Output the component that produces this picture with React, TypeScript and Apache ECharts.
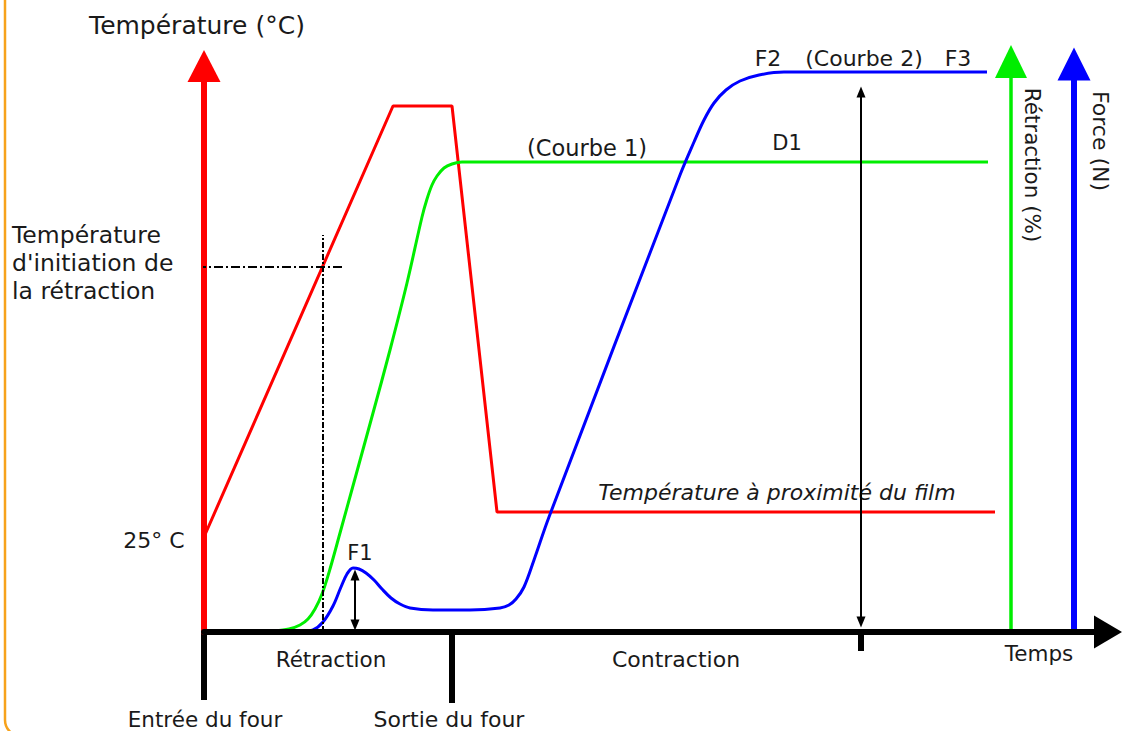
import React, { useEffect, useRef } from "react";
import * as echarts from "echarts";

// Schematic time units (x) and signal levels (y), shared scale for all three quantities
const timeTemp = [0, 189, 248, 293, 791];
const temperature = [95, 526, 526, 120, 120];

const timeRetraction = [50, 70, 85, 96, 104, 111, 118, 126, 136, 169, 186, 203, 218, 223, 228, 233, 240, 248, 258, 784];
const retraction = [0, 1, 3, 7, 13, 23, 38, 63, 99, 219, 282, 349, 415, 433, 447, 456, 464, 468, 470, 470];

const timeForce = [96, 109, 119, 129, 137, 143, 149, 155, 162, 170, 178, 187, 196, 206, 229, 266, 296, 305, 312, 320, 330, 345, 476, 490, 500, 510, 522, 536, 555, 580, 783];
const force = [0, 2, 10, 26, 45, 58, 64, 63, 59, 52, 43, 34, 28, 24, 22, 22, 24, 27, 33, 45, 72, 115, 457, 490, 512, 529, 542, 551, 557, 560, 560];

// initiation temperature guide
const initTemp = 365;
const initTime = 119;
const guideTimeRange = [-7, 139];
const guideVertRange = [0, 397];

// arrows: F1 and F2/F3 amplitude
const f1Time = 151;
const f1Range = [7, 57];
const f2Time = 657;
const f2Range = [10, 540];

// phase boundaries on the time axis with tick lengths
const phaseTimes = [0, 248, 657];
const phaseTickLen = [68, 71, 19];

const XMAX = 904;
const YMAX = 566;

const FONT = "DejaVu Sans";
const TXT = "#1a1a1a";

export default function App() {
  const ref = useRef<HTMLDivElement>(null);

  useEffect(() => {
    if (!ref.current) return;
    const chart = echarts.init(ref.current, null, { renderer: "svg" });

    const hidden = {
      axisTick: { show: false },
      axisLabel: { show: false },
      splitLine: { show: false },
    };

    const zip = (xs: number[], ys: number[]) => xs.map((x, i) => [x, ys[i]]);

    const option: any = {
      animation: false,
      backgroundColor: "#ffffff",
      grid: { left: 204, right: 20, top: 66, bottom: 99 },
      xAxis: {
        type: "value",
        min: 0,
        max: XMAX,
        z: 5,
        axisLine: {
          show: true,
          onZero: false,
          lineStyle: { color: "#000000", width: 6 },
          symbol: ["none", "triangle"],
          symbolSize: [33, 28],
        },
        ...hidden,
      },
      yAxis: [
        {
          type: "value",
          min: 0,
          max: YMAX,
          position: "left",
          axisLine: {
            show: true,
            onZero: false,
            lineStyle: { color: "#ff0000", width: 6 },
            symbol: ["none", "triangle"],
            symbolSize: [33, 32],
          },
          ...hidden,
        },
        {
          type: "value",
          min: 0,
          max: YMAX,
          position: "right",
          offset: -97,
          axisLine: {
            show: true,
            onZero: false,
            lineStyle: { color: "#00ee00", width: 3.5 },
            symbol: ["none", "triangle"],
            symbolSize: [32, 33],
            symbolOffset: [0, 4.5],
          },
          ...hidden,
        },
        {
          type: "value",
          min: 0,
          max: YMAX,
          position: "right",
          offset: -34,
          axisLine: {
            show: true,
            onZero: false,
            lineStyle: { color: "#0000ff", width: 6 },
            symbol: ["none", "triangle"],
            symbolSize: [33, 33],
            symbolOffset: [0, 2],
          },
          ...hidden,
        },
      ],
      series: [
        {
          name: "Température",
          type: "line",
          yAxisIndex: 0,
          data: zip(timeTemp, temperature),
          showSymbol: false,
          lineStyle: { color: "#ff0000", width: 3 },
          silent: true,
        },
        {
          name: "Rétraction",
          type: "line",
          yAxisIndex: 1,
          data: zip(timeRetraction, retraction),
          showSymbol: false,
          smooth: 0.35,
          lineStyle: { color: "#00ee00", width: 3 },
          silent: true,
        },
        {
          name: "Force",
          type: "line",
          yAxisIndex: 2,
          data: zip(timeForce, force),
          showSymbol: false,
          smooth: 0.35,
          lineStyle: { color: "#0000ff", width: 3 },
          silent: true,
          markLine: {
            silent: true,
            symbol: ["triangle", "triangle"],
            symbolSize: [9, 11],
            label: { show: false },
            lineStyle: { color: "#000000", width: 2, type: "solid" },
            data: [
              [{ coord: [f1Time, f1Range[0]] }, { coord: [f1Time, f1Range[1]] }],
              [{ coord: [f2Time, f2Range[0]] }, { coord: [f2Time, f2Range[1]] }],
            ],
          },
        },
        {
          name: "guideH",
          type: "line",
          yAxisIndex: 0,
          clip: false,
          data: [[guideTimeRange[0], initTemp], [guideTimeRange[1], initTemp]],
          showSymbol: false,
          lineStyle: { color: "#000000", width: 2, type: [9, 3, 2, 3] },
          silent: true,
          z: 4,
        },
        {
          name: "guideV",
          type: "line",
          yAxisIndex: 0,
          data: [[initTime, guideVertRange[0]], [initTime, guideVertRange[1]]],
          showSymbol: false,
          lineStyle: { color: "#000000", width: 2, type: [6, 2, 2, 2] },
          silent: true,
          z: 4,
        },
      ],
    };

    chart.setOption(option);

    const ticks = phaseTimes.map((t, i) => {
      const p = chart.convertToPixel({ gridIndex: 0 }, [t, 0]) as number[];
      return {
        type: "line",
        shape: { x1: p[0], y1: p[1], x2: p[0], y2: p[1] + phaseTickLen[i] },
        style: { stroke: "#000000", lineWidth: 6 },
        silent: true,
      };
    });

    const txt = (text: string, x: number, y: number, size = 22, extra: any = {}) => ({
      type: "text",
      x,
      y,
      silent: true,
      ...extra,
      style: {
        text,
        fill: TXT,
        fontFamily: FONT,
        fontSize: size,
        align: "center",
        verticalAlign: "middle",
        ...(extra.style || {}),
      },
    });

    chart.setOption({
      graphic: [
        {
          type: "rect",
          shape: { x: 5, y: -40, width: 1200, height: 776, r: 16 },
          style: { fill: "transparent", stroke: "#f7a21b", lineWidth: 2.5 },
          silent: true,
          z: -1,
        },
        ...ticks,
        txt("Température (°C)", 197, 25, 25),
        {
          type: "text",
          x: 12,
          y: 221,
          silent: true,
          style: {
            text: "Température\nd'initiation de\nla rétraction",
            fill: TXT,
            fontFamily: FONT,
            fontSize: 23.5,
            lineHeight: 28,
            align: "left",
            verticalAlign: "top",
          },
        },
        txt("25° C", 154, 540, 22),
        txt("F1", 360, 553, 21),
        txt("Rétraction", 331, 659, 21.5),
        txt("Contraction", 676, 659, 22),
        txt("Temps", 1039, 653, 21.5),
        txt("Entrée du four", 205, 719, 21.5),
        txt("Sortie du four", 449, 719, 22),
        txt("(Courbe 1)", 587, 148, 22.5),
        txt("D1", 787, 143, 21),
        txt("F2", 768, 58, 22),
        txt("(Courbe 2)", 864, 58, 22),
        txt("F3", 958, 58, 22),
        txt("Température à proximité du film", 777, 492, 22, { style: { fontStyle: "italic" } }),
        txt("Rétraction (%)", 1032, 165, 21.5, { rotation: -Math.PI / 2 }),
        txt("Force (N)", 1100, 141, 22, { rotation: -Math.PI / 2 }),
      ],
    });

    return () => chart.dispose();
  }, []);

  return (
    <div
      ref={ref}
      style={{ position: "absolute", left: 0, top: 0, width: 1128, height: 731, background: "#fff" }}
    />
  );
}
